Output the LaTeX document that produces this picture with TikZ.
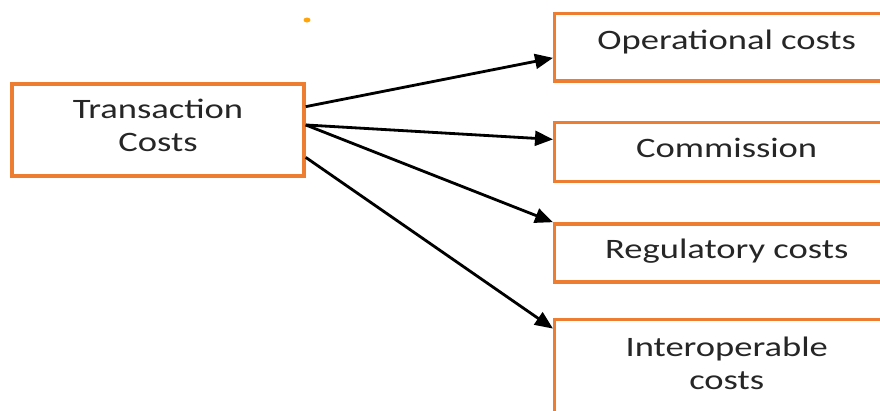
\documentclass[tikz,border=0pt]{standalone}
\usepackage{fontspec}
\setmainfont[FakeStretch=1.3]{Carlito}
\usepackage{tikz}
\usepackage{xcolor}
\usetikzlibrary{arrows.meta, positioning, calc}
\definecolor{boxorange}{HTML}{ED7D31}
\definecolor{dotorange}{HTML}{FFA50A}
\definecolor{textgray}{HTML}{262626}

\begin{document}
\begin{tikzpicture}[x=0.025cm, y=-0.025cm,
  box/.style={rectangle, draw=boxorange, line width=2.4pt, text=textgray, align=center,
    font=\fontsize{20}{23.5}\selectfont, inner sep=0pt},
  costbox/.style={box, minimum width=8.6cm},
  arrow/.style={-{Triangle[length=0.45cm, width=0.37cm]}, line width=2pt}]

\clip (0,0) rectangle (880,410);

\node[box, minimum width=7.3cm, minimum height=2.3cm, text depth=0.25cm] (tc) at (158,130) {Transaction\\Costs};

\node[costbox, minimum height=1.68cm, anchor=north west, text depth=0.4cm] (op) at (553,12) {Operational costs};
\node[costbox, minimum height=1.48cm, below=0.95cm of op, text depth=0.2cm] (comm) {Commission};
\node[costbox, minimum height=1.45cm, below=0.975cm of comm, text depth=0.2cm] (reg) {Regulatory costs};
\node[costbox, minimum height=2.6cm, below=0.85cm of reg, text depth=0.4cm] (inter) {Interoperable\\costs};

% stray mark
\fill[dotorange] (307,20) ellipse (3.5 and 2.5);

\draw[arrow] ($(tc.north east)!0.255!(tc.south east)$) -- ($(op.north west)!0.65!(op.south west)$);
\draw[arrow] ($(tc.north east)!0.447!(tc.south east)$) -- ($(comm.north west)!0.3!(comm.south west)$);
\draw[arrow] ($(tc.north east)!0.447!(tc.south east)$) -- (reg.north west);
\draw[arrow] ($(tc.north east)!0.787!(tc.south east)$) -- ($(inter.north west)+(0,11)$);
\end{tikzpicture}
\end{document}
